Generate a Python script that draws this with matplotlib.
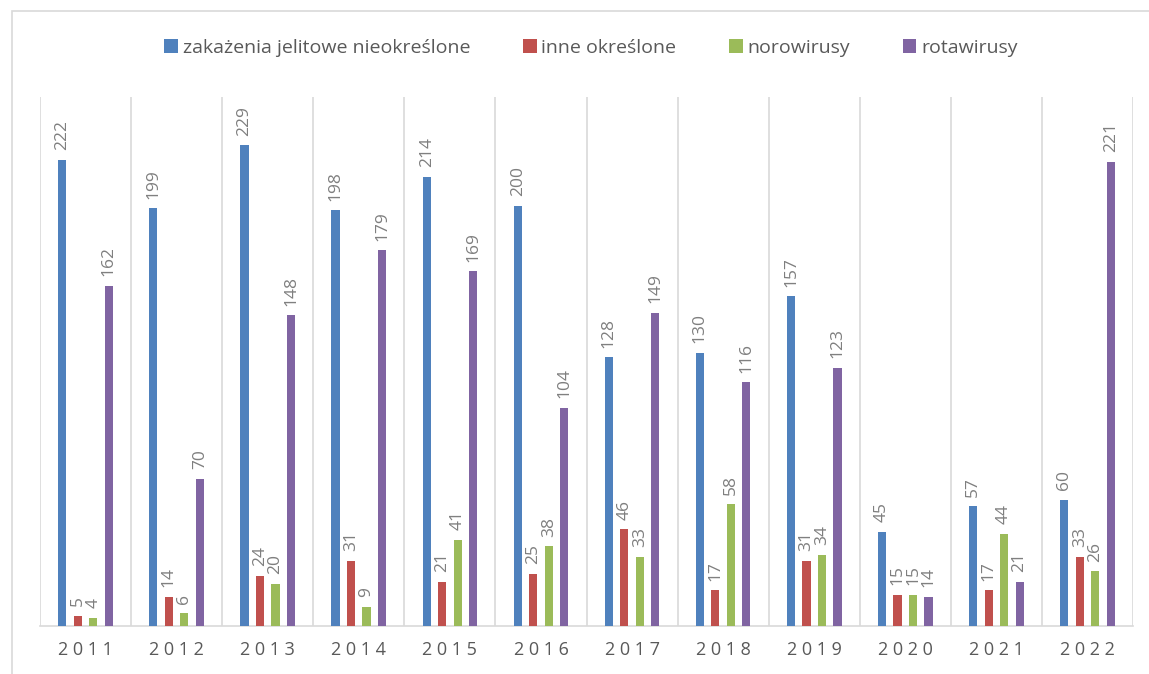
import numpy as np
import matplotlib.pyplot as plt
from matplotlib.patches import Rectangle

years = ["2011", "2012", "2013", "2014", "2015", "2016",
         "2017", "2018", "2019", "2020", "2021", "2022"]
nieokreslone = [222, 199, 229, 198, 214, 200, 128, 130, 157, 45, 57, 60]
inne = [5, 14, 24, 31, 21, 25, 46, 17, 31, 15, 17, 33]
norowirusy = [4, 6, 20, 9, 41, 38, 33, 58, 34, 15, 44, 26]
rotawirusy = [162, 70, 148, 179, 169, 104, 149, 116, 123, 14, 21, 221]

series = [nieokreslone, inne, norowirusy, rotawirusy]
names = ["zakażenia jelitowe nieokreślone", "inne określone", "norowirusy", "rotawirusy"]
colors = ["#4F81BD", "#C0504D", "#9BBB59", "#8064A2"]

plt.rcParams['font.family'] = ['Open Sans', 'DejaVu Sans']

W, H = 1149, 674
fig = plt.figure(figsize=(W / 100, H / 100), dpi=100)
fig.patches.append(Rectangle((12 / W, -0.1), 1.2, 1 - 11 / H + 0.1,
                             transform=fig.transFigure, fill=False,
                             edgecolor="#d9d9d9", linewidth=1.2))

ax = fig.add_axes([40 / W, 48 / H, 1093 / W, 529 / H])
x = np.arange(len(years))
pitch = 0.17
width = 0.09
for i, (vals, name, c) in enumerate(zip(series, names, colors)):
    pos = x + (i - 1.5) * pitch
    ax.bar(pos, vals, width, color=c, label=name, zorder=3)
    for px, v in zip(pos, vals):
        ax.annotate(str(v), (px, v), xytext=(0, 7), textcoords="offset points",
                    rotation=90, ha="center", va="bottom",
                    fontsize=12.5, color="#7f7f7f")

ax.set_xlim(-0.5, len(years) - 0.5)
ax.set_ylim(0, 252)
for b in np.arange(-0.5, len(years), 1.0):
    ax.axvline(b, color="#d9d9d9", linewidth=1.2, zorder=1)
ax.set_yticks([])
ax.set_xticks(x)
ax.set_xticklabels([" ".join(y) for y in years], fontsize=13, color="#595959")
ax.tick_params(axis="x", length=0, pad=11)
for s in ["top", "left", "right"]:
    ax.spines[s].set_visible(False)
ax.spines["bottom"].set_color("#d9d9d9")
ax.spines["bottom"].set_linewidth(1.2)

fig.legend(loc="center", bbox_to_anchor=(591 / W, 1 - 48 / H), ncol=4,
           frameon=False, fontsize=14, labelcolor="#595959",
           handlelength=0.7, handleheight=0.7, handletextpad=0.25,
           columnspacing=2.7)

fig.savefig("out.png", dpi=100, facecolor="white")
